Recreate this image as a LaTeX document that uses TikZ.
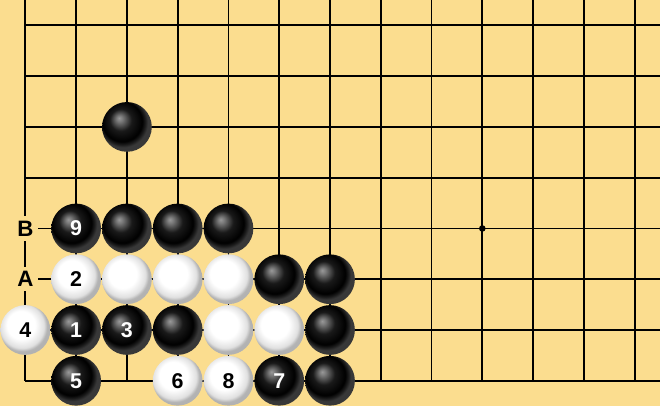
\documentclass[tikz,border=0pt]{standalone}
\usepackage{fontspec}
\setmainfont{Liberation Sans}
\definecolor{board}{RGB}{251,221,143}
\pgfdeclareradialshading{blackstone}{\pgfpoint{-8bp}{9bp}}{%
  color(0bp)=(black!40); color(3bp)=(black!52); color(11bp)=(black!90);
  color(20bp)=(black); color(23bp)=(black!88); color(25bp)=(black!78); color(50bp)=(black!78)}
\pgfdeclareradialshading{whitestone}{\pgfpoint{-6bp}{7bp}}{%
  color(0bp)=(white); color(14bp)=(white); color(22bp)=(black!12);
  color(25bp)=(black!30); color(50bp)=(black!30)}
\tikzset{
  bstone/.style={circle, minimum size=0.98cm, inner sep=0pt, shading=blackstone,
    text=white, font=\fontsize{12}{14}\selectfont\bfseries},
  wstone/.style={circle, minimum size=0.98cm, inner sep=0pt, shading=whitestone,
    text=black, font=\fontsize{12}{14}\selectfont\bfseries},
  marker/.style={fill=board, inner sep=2.5pt, font=\fontsize{12.5}{14}\selectfont\bfseries},
}
\begin{document}
\begin{tikzpicture}
    \useasboundingbox (-0.5, -0.5) rectangle (12.5, 7.5);
    \fill[board] (-0.5, -0.5) rectangle (12.5, 7.5);
    % grid
    \foreach \x in {0, ..., 12}
        \draw[line width=1pt] (\x, 0) -- (\x, 7.5);
    \foreach \y in {0, ..., 7}
        \draw[line width=1pt] (0, \y) -- (12.5, \y);
    \fill (9, 3) circle (0.065);
    % markers
    \node[marker] (mB) at (0, 3) {B};
    \node[marker] (mA) at (0, 2) {A};
    % stones
    \node[bstone] (s25) at (2, 5) {};
    \node[bstone] (s13) at (1, 3) {9};
    \node[bstone] (s23) at (2, 3) {};
    \node[bstone] (s33) at (3, 3) {};
    \node[bstone] (s43) at (4, 3) {};
    \node[wstone] (s12) at (1, 2) {2};
    \node[wstone] (s22) at (2, 2) {};
    \node[wstone] (s32) at (3, 2) {};
    \node[wstone] (s42) at (4, 2) {};
    \node[bstone] (s52) at (5, 2) {};
    \node[bstone] (s62) at (6, 2) {};
    \node[wstone] (s01) at (0, 1) {4};
    \node[bstone] (s11) at (1, 1) {1};
    \node[bstone] (s21) at (2, 1) {3};
    \node[bstone] (s31) at (3, 1) {};
    \node[wstone] (s41) at (4, 1) {};
    \node[wstone] (s51) at (5, 1) {};
    \node[bstone] (s61) at (6, 1) {};
    \node[bstone] (s10) at (1, 0) {5};
    \node[wstone] (s30) at (3, 0) {6};
    \node[wstone] (s40) at (4, 0) {8};
    \node[bstone] (s50) at (5, 0) {7};
    \node[bstone] (s60) at (6, 0) {};
\end{tikzpicture}
\end{document}
